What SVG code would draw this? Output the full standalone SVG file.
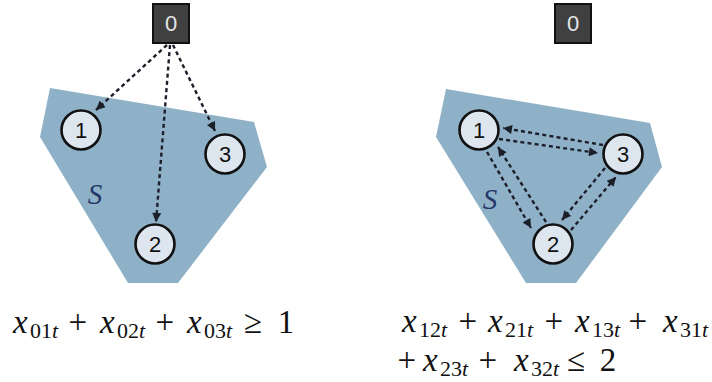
<svg xmlns="http://www.w3.org/2000/svg" width="712" height="382" viewBox="0 0 712 382">
<style>
.region{fill:#8fb1c8;stroke:none}
.box{fill:#404040;stroke:#111;stroke-width:2}
.boxt{font-family:"Liberation Sans",Arial,"DejaVu Sans",sans-serif;font-size:22px;fill:#e6e6e6;text-anchor:middle}
.node{fill:#dde6ee;stroke:#111;stroke-width:2.6}
.nodet{font-family:"Liberation Sans",Arial,"DejaVu Sans",sans-serif;font-size:22px;fill:#111;text-anchor:middle}
.edge{fill:none;stroke:#1c1f2a;stroke-width:2.4;stroke-dasharray:4 3.2}
.slabel{font-family:"Liberation Serif","Times New Roman","DejaVu Serif",serif;font-style:italic;font-size:29px;fill:#24396a;text-anchor:middle}
.eq{font-family:"Liberation Serif","Times New Roman","DejaVu Serif",serif;font-size:33px;fill:#111}
.v{font-style:italic}
.sub{font-size:22px}
.op{text-anchor:middle}
</style>
<defs>
<marker id="ah" viewBox="0 0 10 10" refX="10" refY="5" markerWidth="10" markerHeight="9" markerUnits="userSpaceOnUse" orient="auto">
<path d="M0,0 L10,5 L0,10 z" fill="#1c1f2a"/>
</marker>
</defs>

<g id="regionLeft"><polygon class="region" points="50,88 254,122 267,167 178,283 128,283 40,137"/></g>
<g id="regionRight"><polygon class="region" points="446,89 650,123 662,167 576,283 526,283 436,137"/></g>

<g id="connectors">
<path class="edge" d="M167,45 L96,110" marker-end="url(#ah)"/>
<path class="edge" d="M170,45 L156,222" marker-end="url(#ah)"/>
<path class="edge" d="M173,45 L215,131" marker-end="url(#ah)"/>

<path class="edge" d="M499,139 L598,153" marker-end="url(#ah)"/>
<path class="edge" d="M603,145 L503,128" marker-end="url(#ah)"/>
<path class="edge" d="M487,152 L531,228" marker-end="url(#ah)"/>
<path class="edge" d="M546,222 L498,147" marker-end="url(#ah)"/>
<path class="edge" d="M571,230 L616,177" marker-end="url(#ah)"/>
<path class="edge" d="M605,168 L562,220" marker-end="url(#ah)"/>
</g>

<g id="L0"><rect class="box" x="153" y="4" width="36" height="39"/><text class="boxt" x="171" y="31">0</text></g>
<g id="L1"><circle class="node" cx="81" cy="130" r="19.5"/><text class="nodet" x="81" y="138">1</text></g>
<g id="L2"><circle class="node" cx="155" cy="244" r="19.5"/><text class="nodet" x="155" y="252">2</text></g>
<g id="L3"><circle class="node" cx="225" cy="154" r="19.5"/><text class="nodet" x="225" y="162">3</text></g>
<g id="LS"><text class="slabel" x="95" y="204">S</text></g>

<g id="R0"><rect class="box" x="555" y="4" width="36" height="39"/><text class="boxt" x="573" y="31">0</text></g>
<g id="R1"><circle class="node" cx="479" cy="130" r="19.5"/><text class="nodet" x="479" y="138">1</text></g>
<g id="R2"><circle class="node" cx="553" cy="244" r="19.5"/><text class="nodet" x="553" y="252">2</text></g>
<g id="R3"><circle class="node" cx="623" cy="154" r="19.5"/><text class="nodet" x="623" y="162">3</text></g>
<g id="RS"><text class="slabel" x="490" y="209">S</text></g>

<g id="eqLeft">
<text class="eq">
<tspan class="v" x="13" y="333">x</tspan><tspan class="sub" x="30" y="338">01</tspan><tspan class="sub v" y="338">t</tspan>
<tspan class="op" x="82" y="333">+</tspan>
<tspan class="v" x="100" y="333">x</tspan><tspan class="sub" x="117" y="338">02</tspan><tspan class="sub v" y="338">t</tspan>
<tspan class="op" x="169" y="333">+</tspan>
<tspan class="v" x="187" y="333">x</tspan><tspan class="sub" x="204" y="338">03</tspan><tspan class="sub v" y="338">t</tspan>
<tspan class="op" x="257" y="333">≥</tspan>
<tspan class="op" x="286" y="333">1</tspan>
</text>
</g>

<g id="eqRight">
<text class="eq">
<tspan class="v" x="402" y="332">x</tspan><tspan class="sub" x="419" y="337">12</tspan><tspan class="sub v" y="337">t</tspan>
<tspan class="op" x="472" y="332">+</tspan>
<tspan class="v" x="488" y="332">x</tspan><tspan class="sub" x="505" y="337">21</tspan><tspan class="sub v" y="337">t</tspan>
<tspan class="op" x="558" y="332">+</tspan>
<tspan class="v" x="575" y="332">x</tspan><tspan class="sub" x="592" y="337">13</tspan><tspan class="sub v" y="337">t</tspan>
<tspan class="op" x="642" y="332">+</tspan>
<tspan class="v" x="663" y="332">x</tspan><tspan class="sub" x="680" y="337">31</tspan><tspan class="sub v" y="337">t</tspan>
</text>
<text class="eq">
<tspan class="op" x="411" y="371">+</tspan>
<tspan class="v" x="423" y="371">x</tspan><tspan class="sub" x="440" y="376">23</tspan><tspan class="sub v" y="376">t</tspan>
<tspan class="op" x="492" y="371">+</tspan>
<tspan class="v" x="514" y="371">x</tspan><tspan class="sub" x="531" y="376">32</tspan><tspan class="sub v" y="376">t</tspan>
<tspan class="op" x="580" y="371">≤</tspan>
<tspan class="op" x="608" y="371">2</tspan>
</text>
</g>
</svg>
